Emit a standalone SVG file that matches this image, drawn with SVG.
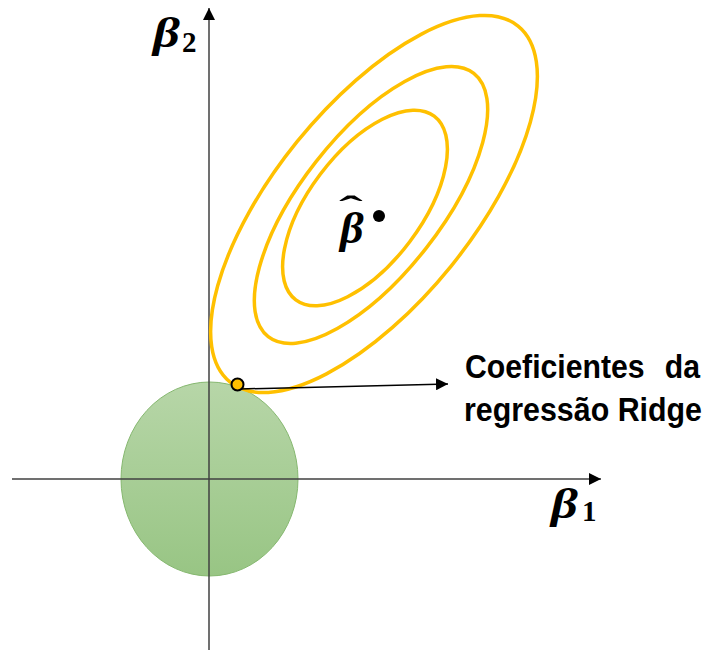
<svg xmlns="http://www.w3.org/2000/svg" width="710" height="650" viewBox="0 0 710 650">
  <defs>
    <linearGradient id="green" x1="0" y1="0" x2="0" y2="1">
      <stop offset="0" stop-color="#B7D6A8"/>
      <stop offset="1" stop-color="#98C584"/>
    </linearGradient>
    <marker id="axhead" viewBox="0 0 12 12" refX="12" refY="6" markerWidth="12" markerHeight="12" markerUnits="userSpaceOnUse" orient="auto">
      <path d="M0,0 L12,6 L0,12 Z" fill="#000"/>
    </marker>
    <marker id="arhead" viewBox="0 0 12 12" refX="12" refY="6" markerWidth="12" markerHeight="12" markerUnits="userSpaceOnUse" orient="auto">
      <path d="M0,0 L12,6 L0,12 Z" fill="#000"/>
    </marker>
  </defs>
  <style>
    .axis { stroke: #404040; stroke-width: 1.5; fill: none; }
    .contour { fill: none; stroke: #FFC000; stroke-width: 3.5; }
    .math { font-family: "Liberation Serif", "DejaVu Serif", serif; font-weight: bold; font-style: italic; fill: #000; }
    .sub { font-family: "Liberation Serif", "DejaVu Serif", serif; font-weight: bold; fill: #000; }
    .label { font-family: "Liberation Sans", Arial, sans-serif; font-weight: bold; font-size: 31px; fill: #000; }
  </style>
  <rect width="710" height="650" fill="#fff"/>

  <g id="constraint-region">
    <ellipse cx="209.5" cy="479" rx="88.5" ry="97" fill="url(#green)" stroke="#86B870" stroke-width="1"/>
  </g>

  <g id="connectors">
    <line class="axis" x1="209" y1="650" x2="209" y2="8" marker-end="url(#axhead)"/>
    <line class="axis" x1="12" y1="479" x2="601" y2="479" marker-end="url(#axhead)"/>
  </g>

  <g id="contours">
    <ellipse class="contour" cx="374" cy="204" rx="229" ry="99" transform="rotate(-51 374 204)"/>
    <ellipse class="contour" cx="371" cy="205" rx="167" ry="70" transform="rotate(-52 371 205)"/>
    <ellipse class="contour" cx="365" cy="208" rx="115" ry="56" transform="rotate(-53 365 208)"/>
  </g>

  <g id="ridge-arrow">
    <line x1="240" y1="389" x2="448" y2="384" stroke="#000" stroke-width="1.5" marker-end="url(#arhead)"/>
  </g>

  <g id="ridge-point">
    <circle cx="237.5" cy="384.5" r="6" fill="#FFC000" stroke="#000" stroke-width="2"/>
  </g>

  <g id="beta-hat">
    <text class="math" x="0" y="0" font-size="44" transform="translate(340 243) scale(1.05 1)">β</text>
    <text class="sub" x="0" y="0" font-size="34" transform="translate(339 220) scale(2.1 1)">ˆ</text>
    <circle cx="379" cy="216" r="6" fill="#000"/>
  </g>

  <g id="label-beta2">
    <text class="math" x="0" y="0" font-size="42" transform="translate(153 47) scale(1.25 1)">β</text>
    <text class="sub" x="182" y="52" font-size="29">2</text>
  </g>

  <g id="label-beta1">
    <text class="math" x="0" y="0" font-size="42" transform="translate(551 518) scale(1.25 1)">β</text>
    <text class="sub" x="582" y="521" font-size="29">1</text>
  </g>

  <g id="label-ridge">
    <text class="label" x="0" y="0" transform="translate(465 378) scale(0.975 1.07)"><tspan x="0">Coeficientes</tspan><tspan x="205">da</tspan></text>
    <text class="label" x="0" y="0" transform="translate(464 421) scale(0.98 1.07)">regressão Ridge</text>
  </g>
</svg>
